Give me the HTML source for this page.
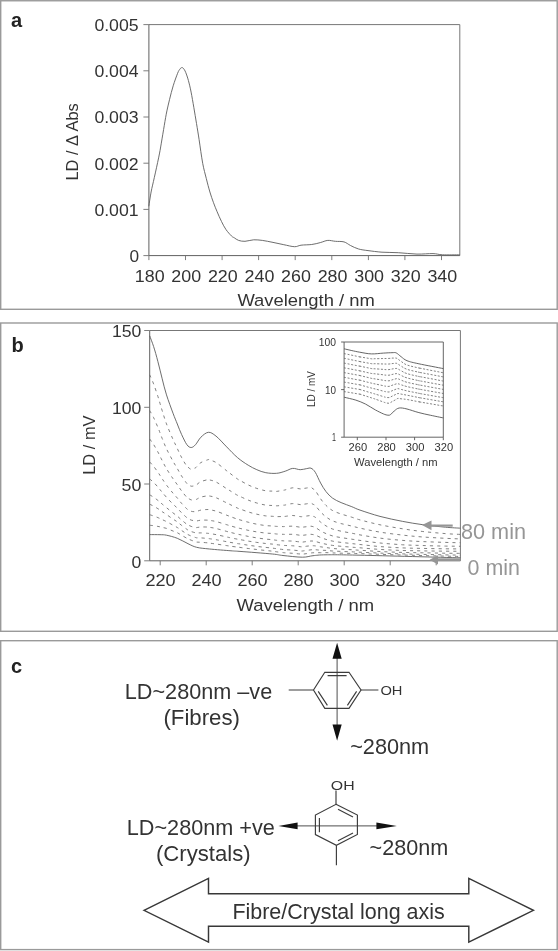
<!DOCTYPE html>
<html><head><meta charset="utf-8"><title>Figure</title>
<style>
html,body{margin:0;padding:0;background:#fff;}
body{width:558px;height:951px;overflow:hidden;font-family:"Liberation Sans",sans-serif;}
svg{display:block;will-change:transform;filter:grayscale(1) blur(0.35px);font-family:"Liberation Sans",sans-serif;}
</style></head><body>
<svg width="558" height="951" viewBox="0 0 558 951">
<rect width="558" height="951" fill="#fff"/>
<rect x="0.7" y="0.75" width="556.5" height="308.55" fill="#fff" stroke="#9a9a9a" stroke-width="1.4"/>
<rect x="0.7" y="323" width="556.5" height="308.30" fill="#fff" stroke="#9a9a9a" stroke-width="1.4"/>
<rect x="0.7" y="640.7" width="556.5" height="308.90" fill="#fff" stroke="#9a9a9a" stroke-width="1.4"/>
<path d="M148.9 24.6H459.8V255.6" fill="none" stroke="#777" stroke-width="1"/><path d="M148.9 24.6V255.6H459.8" fill="none" stroke="#606060" stroke-width="1"/>
<path d="M143.4 24.6H148.9M143.4 70.8H148.9M143.4 117.0H148.9M143.4 163.2H148.9M143.4 209.4H148.9M143.4 255.6H148.9M148.9 255.6V260.1M185.5 255.6V260.1M222.1 255.6V260.1M258.6 255.6V260.1M295.2 255.6V260.1M331.8 255.6V260.1M368.4 255.6V260.1M404.9 255.6V260.1M441.5 255.6V260.1" stroke="#707070" stroke-width="0.9" fill="none"/>
<text x="138.6" y="30.900000000000002" font-size="16.3" text-anchor="end" fill="#333" font-weight="normal" textLength="44.2" lengthAdjust="spacingAndGlyphs">0.005</text>
<text x="138.6" y="77.10000000000001" font-size="16.3" text-anchor="end" fill="#333" font-weight="normal" textLength="44.2" lengthAdjust="spacingAndGlyphs">0.004</text>
<text x="138.6" y="123.3" font-size="16.3" text-anchor="end" fill="#333" font-weight="normal" textLength="44.2" lengthAdjust="spacingAndGlyphs">0.003</text>
<text x="138.6" y="169.5" font-size="16.3" text-anchor="end" fill="#333" font-weight="normal" textLength="44.2" lengthAdjust="spacingAndGlyphs">0.002</text>
<text x="138.6" y="215.70000000000002" font-size="16.3" text-anchor="end" fill="#333" font-weight="normal" textLength="44.2" lengthAdjust="spacingAndGlyphs">0.001</text>
<text x="139.2" y="261.9" font-size="16.3" text-anchor="end" fill="#333" font-weight="normal" textLength="9.6" lengthAdjust="spacingAndGlyphs">0</text>
<text x="149.70000000000002" y="281.7" font-size="16.3" text-anchor="middle" fill="#333" font-weight="normal" textLength="29.8" lengthAdjust="spacingAndGlyphs">180</text>
<text x="186.2764705882353" y="281.7" font-size="16.3" text-anchor="middle" fill="#333" font-weight="normal" textLength="29.8" lengthAdjust="spacingAndGlyphs">200</text>
<text x="222.8529411764706" y="281.7" font-size="16.3" text-anchor="middle" fill="#333" font-weight="normal" textLength="29.8" lengthAdjust="spacingAndGlyphs">220</text>
<text x="259.4294117647059" y="281.7" font-size="16.3" text-anchor="middle" fill="#333" font-weight="normal" textLength="29.8" lengthAdjust="spacingAndGlyphs">240</text>
<text x="296.00588235294117" y="281.7" font-size="16.3" text-anchor="middle" fill="#333" font-weight="normal" textLength="29.8" lengthAdjust="spacingAndGlyphs">260</text>
<text x="332.58235294117645" y="281.7" font-size="16.3" text-anchor="middle" fill="#333" font-weight="normal" textLength="29.8" lengthAdjust="spacingAndGlyphs">280</text>
<text x="369.1588235294118" y="281.7" font-size="16.3" text-anchor="middle" fill="#333" font-weight="normal" textLength="29.8" lengthAdjust="spacingAndGlyphs">300</text>
<text x="405.735294117647" y="281.7" font-size="16.3" text-anchor="middle" fill="#333" font-weight="normal" textLength="29.8" lengthAdjust="spacingAndGlyphs">320</text>
<text x="442.31176470588235" y="281.7" font-size="16.3" text-anchor="middle" fill="#333" font-weight="normal" textLength="29.8" lengthAdjust="spacingAndGlyphs">340</text>
<text x="237.4" y="306" font-size="16.3" text-anchor="start" fill="#333" font-weight="normal" textLength="137.4" lengthAdjust="spacingAndGlyphs">Wavelength / nm</text>
<text x="77.8" y="180.6" font-size="16.3" text-anchor="start" fill="#333" font-weight="normal" textLength="77.4" lengthAdjust="spacingAndGlyphs" transform="rotate(-90 77.8 180.6)">LD / Δ Abs</text>
<text x="11" y="27.2" font-size="20" text-anchor="start" fill="#222" font-weight="bold">a</text>
<path d="M148.8 206.3C149.2 203.9 150.2 196.8 151.1 192.0C152.0 187.2 153.1 183.3 154.3 177.6C155.6 171.9 157.4 163.6 158.6 157.9C159.8 152.2 160.4 148.6 161.3 143.2C162.2 137.8 163.4 130.7 164.3 125.3C165.2 119.9 166.0 115.2 166.9 110.9C167.8 106.6 168.6 103.5 169.6 99.3C170.6 95.1 171.9 90.1 173.2 85.8C174.5 81.5 176.5 76.1 177.6 73.3C178.7 70.5 179.3 70.0 180.0 69.0C180.7 68.0 181.2 67.7 181.8 67.6C182.4 67.5 182.9 67.8 183.6 68.6C184.2 69.4 184.9 70.4 185.7 72.4C186.5 74.4 187.5 77.2 188.4 80.5C189.3 83.8 190.2 87.6 191.1 92.1C192.0 96.6 192.9 102.1 193.8 107.3C194.7 112.5 195.6 118.1 196.5 123.5C197.4 128.9 198.1 133.0 199.1 139.6C200.1 146.2 201.5 156.8 202.7 163.3C203.9 169.8 205.1 173.7 206.3 178.5C207.5 183.3 208.7 188.0 209.9 192.0C211.1 196.0 212.3 199.4 213.5 202.7C214.7 206.0 215.8 208.6 217.1 211.7C218.4 214.8 220.0 218.5 221.5 221.5C223.0 224.5 224.3 227.2 226.0 229.6C227.7 232.0 230.0 234.5 231.4 235.9C232.8 237.3 233.1 237.1 234.3 237.8C235.5 238.6 236.8 239.8 238.6 240.4C240.4 241.0 242.5 241.4 245.0 241.3C247.5 241.2 250.8 240.0 253.7 239.8C256.6 239.7 259.1 240.0 262.3 240.4C265.5 240.8 269.4 241.7 273.0 242.4C276.6 243.1 280.2 244.0 283.8 244.7C287.4 245.4 291.6 246.6 294.5 246.7C297.4 246.8 298.1 245.6 301.0 245.2C303.9 244.8 308.5 244.9 311.7 244.5C314.9 244.1 317.6 243.3 320.3 242.6C323.0 241.9 325.3 240.6 327.8 240.4C330.3 240.2 332.7 241.1 335.4 241.3C338.1 241.6 341.5 241.2 344.0 241.9C346.5 242.6 348.1 244.3 350.5 245.5C352.9 246.7 355.7 248.2 358.6 249.0C361.5 249.8 364.1 250.1 368.0 250.6C371.9 251.1 376.9 251.8 382.0 252.2C387.1 252.5 392.5 252.4 398.3 252.7C404.1 253.0 411.2 253.9 417.0 254.1C422.8 254.2 428.7 253.5 433.0 253.6C437.3 253.7 438.1 254.6 442.6 254.8C447.1 255.0 456.9 254.8 459.8 254.8" fill="none" stroke="#5c5c5c" stroke-width="0.9"/>
<path d="M149.7 330.5H460.4V560.8" fill="none" stroke="#777" stroke-width="1"/><path d="M149.7 330.5V560.8H460.4" fill="none" stroke="#606060" stroke-width="1"/>
<path d="M144.2 330.5H149.7M144.2 407.3H149.7M144.2 484.0H149.7M144.2 560.8H149.7M160.2 560.8V565.3M206.2 560.8V565.3M252.2 560.8V565.3M298.2 560.8V565.3M344.2 560.8V565.3M390.2 560.8V565.3M436.2 560.8V565.3" stroke="#707070" stroke-width="0.9" fill="none"/>
<text x="141.4" y="336.9" font-size="15.7" text-anchor="end" fill="#333" font-weight="normal" textLength="29.4" lengthAdjust="spacingAndGlyphs">150</text>
<text x="141.4" y="414.26666666666665" font-size="15.7" text-anchor="end" fill="#333" font-weight="normal" textLength="29.4" lengthAdjust="spacingAndGlyphs">100</text>
<text x="141.4" y="491.0333333333333" font-size="16.2" text-anchor="end" fill="#333" font-weight="normal" textLength="19.8" lengthAdjust="spacingAndGlyphs">50</text>
<text x="141.4" y="567.8" font-size="15.7" text-anchor="end" fill="#333" font-weight="normal" textLength="9.8" lengthAdjust="spacingAndGlyphs">0</text>
<text x="160.5" y="585.6" font-size="16.3" text-anchor="middle" fill="#333" font-weight="normal" textLength="30.2" lengthAdjust="spacingAndGlyphs">220</text>
<text x="206.5" y="585.6" font-size="16.3" text-anchor="middle" fill="#333" font-weight="normal" textLength="30.2" lengthAdjust="spacingAndGlyphs">240</text>
<text x="252.5" y="585.6" font-size="16.3" text-anchor="middle" fill="#333" font-weight="normal" textLength="30.2" lengthAdjust="spacingAndGlyphs">260</text>
<text x="298.5" y="585.6" font-size="16.3" text-anchor="middle" fill="#333" font-weight="normal" textLength="30.2" lengthAdjust="spacingAndGlyphs">280</text>
<text x="344.5" y="585.6" font-size="16.3" text-anchor="middle" fill="#333" font-weight="normal" textLength="30.2" lengthAdjust="spacingAndGlyphs">300</text>
<text x="390.5" y="585.6" font-size="16.3" text-anchor="middle" fill="#333" font-weight="normal" textLength="30.2" lengthAdjust="spacingAndGlyphs">320</text>
<text x="436.5" y="585.6" font-size="16.3" text-anchor="middle" fill="#333" font-weight="normal" textLength="30.2" lengthAdjust="spacingAndGlyphs">340</text>
<text x="236.6" y="611.4" font-size="16.3" text-anchor="start" fill="#333" font-weight="normal" textLength="137.6" lengthAdjust="spacingAndGlyphs">Wavelength / nm</text>
<text x="95.4" y="474.8" font-size="16.3" text-anchor="start" fill="#333" font-weight="normal" textLength="59.4" lengthAdjust="spacingAndGlyphs" transform="rotate(-90 95.4 474.8)">LD / mV</text>
<text x="11.5" y="352" font-size="20" text-anchor="start" fill="#222" font-weight="bold">b</text>
<path d="M149.7 335.8C150.3 337.6 152.2 342.2 153.6 346.5C155.0 350.8 156.5 356.2 157.9 361.6C159.3 367.0 160.8 373.2 162.2 378.8C163.6 384.4 164.7 389.2 166.5 394.9C168.3 400.6 171.2 408.3 173.0 413.2C174.8 418.1 175.9 420.4 177.3 424.0C178.7 427.6 180.0 431.1 181.6 434.5C183.2 437.9 185.3 442.5 186.9 444.7C188.5 446.9 189.8 447.5 191.2 447.5C192.6 447.5 193.9 446.4 195.5 444.7C197.1 443.0 198.8 439.3 200.9 437.2C203.1 435.1 205.9 432.5 208.4 432.3C210.9 432.1 212.9 433.7 216.0 436.1C219.1 438.5 223.1 443.3 226.7 446.9C230.3 450.5 233.9 454.6 237.5 457.6C241.1 460.7 245.0 463.2 248.2 465.2C251.4 467.2 253.9 468.4 256.8 469.7C259.7 470.9 262.5 472.1 265.8 472.7C269.1 473.3 273.4 473.6 276.6 473.3C279.8 473.1 282.5 472.0 285.2 471.2C287.9 470.4 290.2 468.6 292.7 468.4C295.2 468.1 297.9 469.7 300.2 469.7C302.5 469.7 304.9 468.9 306.7 468.6C308.5 468.4 309.6 467.6 311.0 468.2C312.4 468.8 313.7 469.8 315.3 472.3C316.9 474.8 318.8 479.8 320.6 483.0C322.4 486.2 324.0 489.1 326.0 491.6C328.0 494.1 330.0 496.3 332.5 498.1C335.0 499.9 337.9 501.2 341.1 502.6C344.3 504.0 348.7 505.4 351.8 506.7C354.9 507.9 355.3 508.5 360.0 510.1C364.7 511.7 372.9 514.5 380.0 516.4C387.1 518.3 395.6 520.0 402.7 521.4C409.8 522.8 415.7 523.7 422.8 524.7C429.9 525.7 439.1 526.6 445.4 527.2C451.7 527.8 457.9 528.0 460.4 528.2" fill="none" stroke="#5c5c5c" stroke-width="0.9"/>
<path d="M149.7 534.6C151.4 534.6 157.2 534.6 160.0 534.7C162.8 534.8 163.6 534.6 166.5 535.2C169.4 535.8 173.7 536.9 177.3 538.3C180.9 539.7 184.8 542.2 188.0 543.7C191.2 545.2 193.0 546.4 196.6 547.3C200.2 548.2 203.8 548.4 209.5 549.0C215.2 549.6 225.9 550.4 231.0 550.8C236.1 551.2 233.1 550.9 240.0 551.4C246.9 551.9 265.1 553.3 272.3 554.0C279.5 554.7 278.0 555.0 283.0 555.5C288.0 556.0 297.4 557.2 302.4 557.2C307.4 557.2 309.1 556.1 313.0 555.7C316.9 555.3 318.2 554.9 326.0 554.8C333.8 554.7 337.6 554.7 360.0 555.2C382.4 555.7 443.7 557.4 460.4 557.8" fill="none" stroke="#5c5c5c" stroke-width="0.9"/>
<path d="M149.7 374.8C150.3 376.3 152.2 380.2 153.6 383.9C155.0 387.5 156.8 393.2 157.9 396.4C159.0 399.7 159.3 401.0 160.0 403.4C160.7 405.8 161.1 407.2 162.2 410.7C163.3 414.1 164.7 419.2 166.5 423.9C168.3 428.7 171.2 435.3 173.0 439.4C174.8 443.4 175.9 445.4 177.3 448.5C178.7 451.5 180.0 454.5 181.6 457.5C183.2 460.5 185.8 464.8 186.9 466.4C188.0 468.0 187.3 466.7 188.0 467.1C188.7 467.6 189.9 469.2 191.2 469.3C192.4 469.4 194.6 468.2 195.5 467.8C196.4 467.4 195.7 467.6 196.6 466.8C197.5 465.9 198.9 463.8 200.9 462.6C202.9 461.4 207.0 460.0 208.4 459.6C209.8 459.1 208.2 459.5 209.5 460.0C210.8 460.5 213.1 460.7 216.0 462.5C218.9 464.3 224.2 468.9 226.7 470.8C229.2 472.7 229.2 472.7 231.0 474.1C232.8 475.5 236.0 478.0 237.5 479.0C239.0 480.1 238.2 479.4 240.0 480.4C241.8 481.4 245.4 483.6 248.2 484.9C251.0 486.3 253.9 487.5 256.8 488.4C259.7 489.4 263.2 490.3 265.8 490.8C268.4 491.2 270.5 491.0 272.3 491.1C274.1 491.2 274.8 491.5 276.6 491.4C278.4 491.2 281.6 490.5 283.0 490.3C284.4 490.1 283.6 490.3 285.2 489.9C286.8 489.5 290.2 488.0 292.7 487.8C295.2 487.7 298.6 488.8 300.2 488.9C301.8 489.1 301.3 488.8 302.4 488.7C303.5 488.5 305.3 488.2 306.7 488.0C308.1 487.8 309.9 487.3 311.0 487.5C312.1 487.6 312.3 488.4 313.0 488.9C313.7 489.4 314.0 488.9 315.3 490.6C316.6 492.2 318.8 496.3 320.6 498.8C322.4 501.3 324.0 503.5 326.0 505.4C328.0 507.4 330.0 509.1 332.5 510.5C335.0 511.9 337.9 512.9 341.1 514.0C344.3 515.1 348.7 516.2 351.8 517.2C354.9 518.2 355.3 518.6 360.0 519.9C364.7 521.1 372.9 523.3 380.0 524.8C387.1 526.3 395.6 527.7 402.7 528.8C409.8 530.0 415.7 530.7 422.8 531.5C429.9 532.3 439.1 533.1 445.4 533.6C451.7 534.1 457.9 534.3 460.4 534.4" fill="none" stroke="#6a6a6a" stroke-width="0.85" stroke-dasharray="3.1 4.1"/>
<path d="M149.7 410.5C150.3 411.7 152.2 414.8 153.6 417.6C155.0 420.4 156.8 424.9 157.9 427.4C159.0 429.9 159.3 430.9 160.0 432.8C160.7 434.6 161.1 435.8 162.2 438.5C163.3 441.1 164.7 445.0 166.5 448.8C168.3 452.6 171.2 457.9 173.0 461.2C174.8 464.5 175.9 466.1 177.3 468.5C178.7 471.0 180.0 473.5 181.6 476.0C183.2 478.5 185.8 482.2 186.9 483.5C188.0 484.9 187.3 483.8 188.0 484.2C188.7 484.7 189.9 486.0 191.2 486.2C192.4 486.4 194.6 485.7 195.5 485.4C196.4 485.2 195.7 485.4 196.6 484.8C197.5 484.1 198.9 482.5 200.9 481.6C202.9 480.8 207.0 479.8 208.4 479.5C209.8 479.2 208.2 479.5 209.5 479.9C210.8 480.3 213.1 480.5 216.0 482.0C218.9 483.4 224.2 487.1 226.7 488.7C229.2 490.3 229.2 490.2 231.0 491.3C232.8 492.5 236.0 494.5 237.5 495.3C239.0 496.2 238.2 495.6 240.0 496.4C241.8 497.2 245.4 499.0 248.2 500.1C251.0 501.2 253.9 502.2 256.8 503.0C259.7 503.9 263.2 504.7 265.8 505.1C268.4 505.5 270.5 505.3 272.3 505.5C274.1 505.6 274.8 505.9 276.6 505.8C278.4 505.8 281.6 505.4 283.0 505.2C284.4 505.1 283.6 505.3 285.2 505.0C286.8 504.7 290.2 503.6 292.7 503.6C295.2 503.5 298.6 504.5 300.2 504.6C301.8 504.8 301.3 504.6 302.4 504.5C303.5 504.3 305.3 504.0 306.7 503.8C308.1 503.6 309.9 503.2 311.0 503.3C312.1 503.4 312.3 504.0 313.0 504.3C313.7 504.7 314.0 504.3 315.3 505.6C316.6 506.9 318.8 510.0 320.6 511.9C322.4 513.8 324.0 515.4 326.0 516.9C328.0 518.4 330.0 519.7 332.5 520.8C335.0 521.9 337.9 522.7 341.1 523.6C344.3 524.4 348.7 525.3 351.8 526.1C354.9 526.8 355.3 527.1 360.0 528.1C364.7 529.2 372.9 531.0 380.0 532.1C387.1 533.3 395.6 534.3 402.7 535.1C409.8 536.0 415.7 536.4 422.8 537.0C429.9 537.5 439.1 538.0 445.4 538.3C451.7 538.7 457.9 538.8 460.4 538.9" fill="none" stroke="#6a6a6a" stroke-width="0.85" stroke-dasharray="3.1 4.1"/>
<path d="M149.7 439.0C150.3 439.9 152.2 442.3 153.6 444.5C155.0 446.6 156.8 450.1 157.9 452.0C159.0 454.0 159.3 454.8 160.0 456.2C160.7 457.6 161.1 458.5 162.2 460.6C163.3 462.7 164.7 465.7 166.5 468.7C168.3 471.7 171.2 476.1 173.0 478.7C174.8 481.4 175.9 482.6 177.3 484.7C178.7 486.7 180.0 488.8 181.6 490.9C183.2 493.1 185.8 496.2 186.9 497.4C188.0 498.5 187.3 497.6 188.0 498.0C188.7 498.5 189.9 499.6 191.2 499.9C192.4 500.1 194.6 499.8 195.5 499.7C196.4 499.6 195.7 499.8 196.6 499.3C197.5 498.9 198.9 497.7 200.9 497.1C202.9 496.5 207.0 495.9 208.4 495.7C209.8 495.5 208.2 495.7 209.5 496.0C210.8 496.3 213.1 496.5 216.0 497.7C218.9 498.8 224.2 501.7 226.7 502.9C229.2 504.1 229.2 504.1 231.0 505.0C232.8 505.9 236.0 507.4 237.5 508.1C239.0 508.8 238.2 508.3 240.0 509.0C241.8 509.6 245.4 511.0 248.2 511.9C251.0 512.8 253.9 513.6 256.8 514.2C259.7 514.9 263.2 515.6 265.8 515.9C268.4 516.2 270.5 516.1 272.3 516.3C274.1 516.4 274.8 516.6 276.6 516.6C278.4 516.7 281.6 516.5 283.0 516.5C284.4 516.4 283.6 516.5 285.2 516.4C286.8 516.2 290.2 515.5 292.7 515.5C295.2 515.6 298.6 516.4 300.2 516.6C301.8 516.8 301.3 516.7 302.4 516.6C303.5 516.5 305.3 516.2 306.7 516.0C308.1 515.8 309.9 515.5 311.0 515.6C312.1 515.6 312.3 516.0 313.0 516.3C313.7 516.6 314.0 516.3 315.3 517.3C316.6 518.2 318.8 520.6 320.6 522.1C322.4 523.5 324.0 524.7 326.0 525.9C328.0 527.0 330.0 528.1 332.5 529.0C335.0 529.8 337.9 530.5 341.1 531.2C344.3 531.9 348.7 532.6 351.8 533.2C354.9 533.8 355.3 534.0 360.0 534.9C364.7 535.7 372.9 537.2 380.0 538.1C387.1 539.1 395.6 539.8 402.7 540.4C409.8 541.0 415.7 541.3 422.8 541.6C429.9 541.9 439.1 542.2 445.4 542.4C451.7 542.6 457.9 542.7 460.4 542.7" fill="none" stroke="#6a6a6a" stroke-width="0.85" stroke-dasharray="3.1 4.1"/>
<path d="M149.7 462.0C150.3 462.7 152.2 464.6 153.6 466.3C155.0 468.0 156.8 470.7 157.9 472.2C159.0 473.7 159.3 474.3 160.0 475.4C160.7 476.5 161.1 477.2 162.2 478.8C163.3 480.4 164.7 482.7 166.5 485.1C168.3 487.5 171.2 491.0 173.0 493.2C174.8 495.4 175.9 496.3 177.3 498.0C178.7 499.7 180.0 501.5 181.6 503.4C183.2 505.2 185.8 507.9 186.9 508.9C188.0 509.9 187.3 509.2 188.0 509.6C188.7 510.0 189.9 511.0 191.2 511.3C192.4 511.7 194.6 511.7 195.5 511.7C196.4 511.8 195.7 511.8 196.6 511.6C197.5 511.3 198.9 510.4 200.9 510.1C202.9 509.7 207.0 509.5 208.4 509.5C209.8 509.4 208.2 509.4 209.5 509.7C210.8 510.0 213.1 510.2 216.0 511.1C218.9 512.0 224.2 514.2 226.7 515.2C229.2 516.1 229.2 516.2 231.0 516.8C232.8 517.5 236.0 518.7 237.5 519.2C239.0 519.7 238.2 519.4 240.0 519.9C241.8 520.4 245.4 521.5 248.2 522.2C251.0 523.0 253.9 523.6 256.8 524.2C259.7 524.7 263.2 525.3 265.8 525.6C268.4 525.9 270.5 525.8 272.3 526.0C274.1 526.1 274.8 526.3 276.6 526.4C278.4 526.5 281.6 526.5 283.0 526.6C284.4 526.6 283.6 526.6 285.2 526.5C286.8 526.5 290.2 526.0 292.7 526.2C295.2 526.3 298.6 527.0 300.2 527.2C301.8 527.4 301.3 527.3 302.4 527.2C303.5 527.1 305.3 526.8 306.7 526.7C308.1 526.5 309.9 526.2 311.0 526.2C312.1 526.2 312.3 526.5 313.0 526.7C313.7 526.9 314.0 526.7 315.3 527.4C316.6 528.1 318.8 529.8 320.6 530.9C322.4 531.9 324.0 532.8 326.0 533.6C328.0 534.4 330.0 535.2 332.5 535.9C335.0 536.6 337.9 537.1 341.1 537.6C344.3 538.1 348.7 538.7 351.8 539.2C354.9 539.6 355.3 539.8 360.0 540.4C364.7 541.1 372.9 542.3 380.0 543.0C387.1 543.7 395.6 544.3 402.7 544.8C409.8 545.2 415.7 545.3 422.8 545.5C429.9 545.8 439.1 546.0 445.4 546.1C451.7 546.2 457.9 546.2 460.4 546.3" fill="none" stroke="#6a6a6a" stroke-width="0.85" stroke-dasharray="3.1 4.1"/>
<path d="M149.7 478.9C150.3 479.5 152.2 481.0 153.6 482.4C155.0 483.7 156.8 485.8 157.9 487.0C159.0 488.2 159.3 488.7 160.0 489.6C160.7 490.5 161.1 491.0 162.2 492.3C163.3 493.6 164.7 495.3 166.5 497.3C168.3 499.3 171.2 502.3 173.0 504.1C174.8 505.9 175.9 506.7 177.3 508.1C178.7 509.6 180.0 511.2 181.6 512.8C183.2 514.4 185.8 516.8 186.9 517.7C188.0 518.7 187.3 518.0 188.0 518.4C188.7 518.8 189.9 519.7 191.2 520.1C192.4 520.5 194.6 520.8 195.5 521.0C196.4 521.1 195.7 521.1 196.6 521.0C197.5 520.9 198.9 520.3 200.9 520.2C202.9 520.0 207.0 520.1 208.4 520.2C209.8 520.2 208.2 520.2 209.5 520.4C210.8 520.6 213.1 520.8 216.0 521.5C218.9 522.3 224.2 524.0 226.7 524.7C229.2 525.5 229.2 525.5 231.0 526.0C232.8 526.5 236.0 527.5 237.5 527.9C239.0 528.3 238.2 528.0 240.0 528.4C241.8 528.8 245.4 529.7 248.2 530.3C251.0 530.9 253.9 531.4 256.8 531.9C259.7 532.3 263.2 532.8 265.8 533.1C268.4 533.3 270.5 533.3 272.3 533.5C274.1 533.6 274.8 533.8 276.6 534.0C278.4 534.1 281.6 534.3 283.0 534.3C284.4 534.4 283.6 534.4 285.2 534.4C286.8 534.4 290.2 534.2 292.7 534.3C295.2 534.4 298.6 535.1 300.2 535.3C301.8 535.4 301.3 535.4 302.4 535.3C303.5 535.3 305.3 535.0 306.7 534.8C308.1 534.6 309.9 534.3 311.0 534.3C312.1 534.3 312.3 534.5 313.0 534.6C313.7 534.7 314.0 534.6 315.3 535.1C316.6 535.5 318.8 536.8 320.6 537.5C322.4 538.2 324.0 538.8 326.0 539.4C328.0 540.0 330.0 540.6 332.5 541.1C335.0 541.6 337.9 542.0 341.1 542.4C344.3 542.8 348.7 543.2 351.8 543.6C354.9 543.9 355.3 544.0 360.0 544.5C364.7 545.0 372.9 546.0 380.0 546.6C387.1 547.1 395.6 547.6 402.7 547.9C409.8 548.2 415.7 548.3 422.8 548.4C429.9 548.6 439.1 548.7 445.4 548.8C451.7 548.9 457.9 548.9 460.4 548.9" fill="none" stroke="#6a6a6a" stroke-width="0.85" stroke-dasharray="3.1 4.1"/>
<path d="M149.7 494.8C150.3 495.2 152.2 496.3 153.6 497.2C155.0 498.1 156.8 499.6 157.9 500.4C159.0 501.2 159.3 501.5 160.0 502.1C160.7 502.8 161.1 503.2 162.2 504.1C163.3 505.0 164.7 506.2 166.5 507.7C168.3 509.1 171.2 511.5 173.0 512.9C174.8 514.3 175.9 515.0 177.3 516.1C178.7 517.3 180.0 518.7 181.6 520.0C183.2 521.4 185.8 523.5 186.9 524.3C188.0 525.1 187.3 524.5 188.0 524.9C188.7 525.2 189.9 526.0 191.2 526.4C192.4 526.9 194.6 527.3 195.5 527.5C196.4 527.6 195.7 527.6 196.6 527.6C197.5 527.5 198.9 527.1 200.9 527.0C202.9 526.9 207.0 527.0 208.4 527.1C209.8 527.1 208.2 527.1 209.5 527.3C210.8 527.5 213.1 527.8 216.0 528.5C218.9 529.2 224.2 530.7 226.7 531.4C229.2 532.1 229.2 532.1 231.0 532.5C232.8 533.0 236.0 533.8 237.5 534.2C239.0 534.5 238.2 534.3 240.0 534.7C241.8 535.0 245.4 535.8 248.2 536.4C251.0 536.9 253.9 537.4 256.8 537.9C259.7 538.3 263.2 538.8 265.8 539.1C268.4 539.4 270.5 539.5 272.3 539.7C274.1 539.9 274.8 540.1 276.6 540.3C278.4 540.5 281.6 540.7 283.0 540.8C284.4 540.9 283.6 540.9 285.2 540.9C286.8 541.0 290.2 540.9 292.7 541.1C295.2 541.3 298.6 541.8 300.2 542.0C301.8 542.1 301.3 542.2 302.4 542.1C303.5 542.0 305.3 541.7 306.7 541.5C308.1 541.3 309.9 541.1 311.0 541.0C312.1 540.9 312.3 541.1 313.0 541.1C313.7 541.2 314.0 541.1 315.3 541.4C316.6 541.7 318.8 542.5 320.6 543.0C322.4 543.4 324.0 543.8 326.0 544.2C328.0 544.6 330.0 545.0 332.5 545.4C335.0 545.7 337.9 546.0 341.1 546.3C344.3 546.6 348.7 546.9 351.8 547.2C354.9 547.4 355.3 547.5 360.0 547.8C364.7 548.2 372.9 549.0 380.0 549.4C387.1 549.9 395.6 550.2 402.7 550.5C409.8 550.7 415.7 550.7 422.8 550.9C429.9 551.0 439.1 551.1 445.4 551.2C451.7 551.2 457.9 551.3 460.4 551.3" fill="none" stroke="#6a6a6a" stroke-width="0.85" stroke-dasharray="3.1 4.1"/>
<path d="M149.7 504.2C150.3 504.5 152.2 505.4 153.6 506.1C155.0 506.9 156.8 508.0 157.9 508.7C159.0 509.3 159.3 509.6 160.0 510.1C160.7 510.6 161.1 510.9 162.2 511.7C163.3 512.4 164.7 513.3 166.5 514.5C168.3 515.8 171.2 517.9 173.0 519.1C174.8 520.3 175.9 520.8 177.3 521.9C178.7 522.9 180.0 524.2 181.6 525.4C183.2 526.7 185.8 528.6 186.9 529.3C188.0 530.1 187.3 529.6 188.0 530.0C188.7 530.3 189.9 531.0 191.2 531.5C192.4 532.0 194.6 532.6 195.5 532.8C196.4 533.1 195.7 533.0 196.6 533.0C197.5 533.1 198.9 532.8 200.9 532.9C202.9 532.9 207.0 533.2 208.4 533.4C209.8 533.5 208.2 533.4 209.5 533.6C210.8 533.8 213.1 534.0 216.0 534.6C218.9 535.2 224.2 536.4 226.7 537.0C229.2 537.5 229.2 537.5 231.0 537.9C232.8 538.3 236.0 538.9 237.5 539.2C239.0 539.5 238.2 539.3 240.0 539.6C241.8 539.9 245.4 540.6 248.2 541.1C251.0 541.5 253.9 542.0 256.8 542.4C259.7 542.8 263.2 543.2 265.8 543.5C268.4 543.8 270.5 543.9 272.3 544.1C274.1 544.3 274.8 544.5 276.6 544.7C278.4 544.9 281.6 545.2 283.0 545.4C284.4 545.5 283.6 545.4 285.2 545.5C286.8 545.6 290.2 545.6 292.7 545.8C295.2 546.0 298.6 546.5 300.2 546.7C301.8 546.8 301.3 546.9 302.4 546.8C303.5 546.7 305.3 546.4 306.7 546.2C308.1 546.1 309.9 545.8 311.0 545.7C312.1 545.6 312.3 545.7 313.0 545.7C313.7 545.7 314.0 545.7 315.3 545.9C316.6 546.0 318.8 546.6 320.6 546.8C322.4 547.1 324.0 547.3 326.0 547.5C328.0 547.8 330.0 548.2 332.5 548.4C335.0 548.7 337.9 548.9 341.1 549.1C344.3 549.3 348.7 549.5 351.8 549.7C354.9 549.9 355.3 550.0 360.0 550.3C364.7 550.5 372.9 551.2 380.0 551.5C387.1 551.9 395.6 552.2 402.7 552.4C409.8 552.6 415.7 552.7 422.8 552.8C429.9 552.9 439.1 553.1 445.4 553.2C451.7 553.3 457.9 553.3 460.4 553.4" fill="none" stroke="#6a6a6a" stroke-width="0.85" stroke-dasharray="3.1 4.1"/>
<path d="M149.7 514.7C150.3 514.9 152.2 515.5 153.6 516.0C155.0 516.4 156.8 517.2 157.9 517.6C159.0 518.1 159.3 518.2 160.0 518.6C160.7 518.9 161.1 519.1 162.2 519.6C163.3 520.1 164.7 520.7 166.5 521.6C168.3 522.5 171.2 524.2 173.0 525.2C174.8 526.2 175.9 526.6 177.3 527.5C178.7 528.3 180.0 529.4 181.6 530.5C183.2 531.6 185.8 533.3 186.9 534.0C188.0 534.7 187.3 534.2 188.0 534.6C188.7 534.9 189.9 535.6 191.2 536.0C192.4 536.5 194.6 537.2 195.5 537.5C196.4 537.8 195.7 537.7 196.6 537.8C197.5 537.9 198.9 537.8 200.9 537.9C202.9 538.0 207.0 538.4 208.4 538.5C209.8 538.6 208.2 538.5 209.5 538.7C210.8 538.9 213.1 539.2 216.0 539.7C218.9 540.2 224.2 541.2 226.7 541.7C229.2 542.2 229.2 542.2 231.0 542.5C232.8 542.8 236.0 543.3 237.5 543.6C239.0 543.8 238.2 543.7 240.0 543.9C241.8 544.2 245.4 544.8 248.2 545.2C251.0 545.6 253.9 546.0 256.8 546.4C259.7 546.7 263.2 547.2 265.8 547.4C268.4 547.7 270.5 547.9 272.3 548.1C274.1 548.3 274.8 548.5 276.6 548.7C278.4 549.0 281.6 549.3 283.0 549.5C284.4 549.7 283.6 549.6 285.2 549.7C286.8 549.8 290.2 549.9 292.7 550.1C295.2 550.3 298.6 550.7 300.2 550.8C301.8 551.0 301.3 551.1 302.4 551.0C303.5 550.9 305.3 550.6 306.7 550.4C308.1 550.2 309.9 550.0 311.0 549.8C312.1 549.7 312.3 549.7 313.0 549.7C313.7 549.7 314.0 549.7 315.3 549.7C316.6 549.8 318.8 550.1 320.6 550.2C322.4 550.3 324.0 550.3 326.0 550.4C328.0 550.6 330.0 550.8 332.5 551.0C335.0 551.1 337.9 551.3 341.1 551.4C344.3 551.6 348.7 551.7 351.8 551.8C354.9 552.0 355.3 552.0 360.0 552.2C364.7 552.4 372.9 552.8 380.0 553.1C387.1 553.4 395.6 553.7 402.7 553.9C409.8 554.1 415.7 554.2 422.8 554.4C429.9 554.5 439.1 554.7 445.4 554.9C451.7 555.0 457.9 555.1 460.4 555.1" fill="none" stroke="#6a6a6a" stroke-width="0.85" stroke-dasharray="3.1 4.1"/>
<path d="M149.7 525.3C150.3 525.3 152.2 525.5 153.6 525.7C155.0 525.9 156.8 526.3 157.9 526.4C159.0 526.6 159.3 526.7 160.0 526.8C160.7 527.0 161.1 527.1 162.2 527.4C163.3 527.7 164.7 527.8 166.5 528.4C168.3 529.1 171.2 530.3 173.0 531.0C174.8 531.8 175.9 532.0 177.3 532.7C178.7 533.4 180.0 534.3 181.6 535.3C183.2 536.2 185.8 537.7 186.9 538.3C188.0 538.9 187.3 538.5 188.0 538.8C188.7 539.1 189.9 539.7 191.2 540.2C192.4 540.7 194.6 541.4 195.5 541.7C196.4 542.0 195.7 542.0 196.6 542.1C197.5 542.2 198.9 542.1 200.9 542.3C202.9 542.4 207.0 542.8 208.4 542.9C209.8 543.1 208.2 542.9 209.5 543.1C210.8 543.3 213.1 543.6 216.0 544.0C218.9 544.4 224.2 545.3 226.7 545.6C229.2 546.0 229.2 546.0 231.0 546.3C232.8 546.5 236.0 546.9 237.5 547.1C239.0 547.3 238.2 547.2 240.0 547.4C241.8 547.7 245.4 548.1 248.2 548.5C251.0 548.8 253.9 549.2 256.8 549.5C259.7 549.9 263.2 550.2 265.8 550.5C268.4 550.8 270.5 550.9 272.3 551.2C274.1 551.4 274.8 551.6 276.6 551.8C278.4 552.1 281.6 552.5 283.0 552.6C284.4 552.8 283.6 552.7 285.2 552.8C286.8 552.9 290.2 553.1 292.7 553.3C295.2 553.5 298.6 553.9 300.2 554.0C301.8 554.2 301.3 554.3 302.4 554.2C303.5 554.1 305.3 553.8 306.7 553.6C308.1 553.4 309.9 553.1 311.0 553.0C312.1 552.8 312.3 552.8 313.0 552.8C313.7 552.7 314.0 552.7 315.3 552.7C316.6 552.7 318.8 552.7 320.6 552.7C322.4 552.7 324.0 552.6 326.0 552.6C328.0 552.7 330.0 552.8 332.5 552.9C335.0 553.0 337.9 553.1 341.1 553.2C344.3 553.3 348.7 553.3 351.8 553.4C354.9 553.5 355.3 553.5 360.0 553.6C364.7 553.8 372.9 554.1 380.0 554.3C387.1 554.6 395.6 554.8 402.7 555.0C409.8 555.2 415.7 555.4 422.8 555.6C429.9 555.7 439.1 556.0 445.4 556.1C451.7 556.3 457.9 556.4 460.4 556.5" fill="none" stroke="#6a6a6a" stroke-width="0.85" stroke-dasharray="3.1 4.1"/>
<path d="M422 525L431.5 520.4V530.2Z" fill="#969696"/><path d="M431 525.6H452.7" stroke="#969696" stroke-width="2.2"/>
<path d="M429.6 559.8L438 555.2V564.6Z" fill="#969696"/><path d="M437.5 559.6H460.4" stroke="#969696" stroke-width="2.6"/>
<text x="461" y="539.2" font-size="21.6" text-anchor="start" fill="#969696" font-weight="normal" textLength="65" lengthAdjust="spacingAndGlyphs">80 min</text>
<text x="467.6" y="574.6" font-size="21.6" text-anchor="start" fill="#969696" font-weight="normal" textLength="52.4" lengthAdjust="spacingAndGlyphs">0 min</text>
<path d="M344.1 342H443.3V437.2H344.1Z" fill="#fff" stroke="#555" stroke-width="0.9"/>
<path d="M341.1 342.0H344.1M341.1 389.6H344.1M341.1 437.2H344.1M357.3 437.2V440.2M386.0 437.2V440.2M414.6 437.2V440.2M443.3 437.2V440.2" stroke="#555" stroke-width="0.9" fill="none"/>
<text x="336" y="345.8" font-size="10.3" text-anchor="end" fill="#333" font-weight="normal" textLength="17.2" lengthAdjust="spacingAndGlyphs">100</text>
<text x="336" y="394.00000000000006" font-size="10.3" text-anchor="end" fill="#333" font-weight="normal" textLength="11" lengthAdjust="spacingAndGlyphs">10</text>
<text x="336" y="441.0" font-size="10.3" text-anchor="end" fill="#333" font-weight="normal" textLength="4" lengthAdjust="spacingAndGlyphs">1</text>
<text x="357.8" y="451.4" font-size="10.3" text-anchor="middle" fill="#333" font-weight="normal" textLength="18.6" lengthAdjust="spacingAndGlyphs">260</text>
<text x="386.5" y="451.4" font-size="10.3" text-anchor="middle" fill="#333" font-weight="normal" textLength="18.6" lengthAdjust="spacingAndGlyphs">280</text>
<text x="415.1" y="451.4" font-size="10.3" text-anchor="middle" fill="#333" font-weight="normal" textLength="18.6" lengthAdjust="spacingAndGlyphs">300</text>
<text x="443.8" y="451.4" font-size="10.3" text-anchor="middle" fill="#333" font-weight="normal" textLength="18.6" lengthAdjust="spacingAndGlyphs">320</text>
<text x="354" y="465.8" font-size="10.3" text-anchor="start" fill="#333" font-weight="normal" textLength="83.6" lengthAdjust="spacingAndGlyphs">Wavelength / nm</text>
<text x="315" y="406.9" font-size="10.3" text-anchor="start" fill="#333" font-weight="normal" textLength="35.8" lengthAdjust="spacingAndGlyphs" transform="rotate(-90 315 406.9)">LD / mV</text>
<path d="M344.1 348.8C346.7 349.4 355.1 351.4 359.7 352.2C364.3 353.0 367.7 353.8 371.6 353.9C375.6 354.0 380.0 353.3 383.4 353.1C386.8 352.9 389.9 352.7 392.0 352.7C394.1 352.7 394.7 352.2 396.2 352.9C397.7 353.6 399.3 355.4 401.1 356.7C402.9 358.0 404.0 359.5 407.0 360.7C410.0 361.9 412.8 362.5 418.9 363.8C424.9 365.1 439.2 367.8 443.3 368.6" fill="none" stroke="#555" stroke-width="0.9"/>
<path d="M344.1 397.2C346.1 397.7 352.2 399.0 355.8 400.1C359.4 401.2 362.3 402.5 365.6 404.1C368.9 405.8 372.5 408.4 375.5 410.0C378.5 411.6 381.3 413.0 383.4 413.9C385.5 414.8 386.8 415.1 388.0 415.2C389.2 415.3 389.6 415.3 390.6 414.6C391.6 413.9 392.8 412.1 394.2 411.0C395.6 409.9 397.1 408.3 399.2 408.0C401.3 407.7 403.7 408.2 407.0 409.0C410.3 409.8 414.9 411.6 418.9 412.6C422.8 413.7 426.6 414.4 430.7 415.3C434.8 416.2 441.2 417.5 443.3 417.9" fill="none" stroke="#555" stroke-width="0.9"/>
<path d="M344.1 353.6C346.7 354.1 357.1 356.3 359.7 356.9C362.3 357.4 358.0 356.6 360.0 356.9C362.0 357.2 369.1 358.5 371.6 358.8C374.1 359.1 373.0 358.7 375.0 358.7C377.0 358.7 381.7 358.6 383.4 358.5C385.1 358.5 384.1 358.6 385.0 358.5C385.9 358.5 387.8 358.5 389.0 358.4C390.2 358.4 391.2 358.2 392.0 358.1C392.8 358.1 393.3 358.1 394.0 358.1C394.7 358.1 395.5 357.9 396.2 358.1C396.9 358.2 397.2 358.6 398.0 359.2C398.8 359.7 399.6 360.4 401.1 361.4C402.6 362.3 404.0 363.9 407.0 365.0C410.0 366.1 416.7 367.5 418.9 368.0C421.1 368.6 415.9 367.4 420.0 368.2C424.1 369.0 439.4 372.0 443.3 372.8" fill="none" stroke="#5a5a5a" stroke-width="0.75" stroke-dasharray="2 1.6"/>
<path d="M344.1 358.3C346.7 358.8 357.1 361.0 359.7 361.5C362.3 362.1 358.0 361.2 360.0 361.6C362.0 361.9 369.1 363.3 371.6 363.7C374.1 364.0 373.0 363.7 375.0 363.7C377.0 363.8 381.7 363.9 383.4 364.0C385.1 364.0 384.1 364.0 385.0 364.0C385.9 364.1 387.8 364.1 389.0 364.0C390.2 364.0 391.2 363.7 392.0 363.6C392.8 363.5 393.3 363.5 394.0 363.4C394.7 363.4 395.5 363.1 396.2 363.2C396.9 363.3 397.2 363.6 398.0 364.1C398.8 364.6 399.6 365.2 401.1 366.1C402.6 366.9 404.0 368.3 407.0 369.3C410.0 370.4 416.7 371.7 418.9 372.2C421.1 372.8 415.9 371.7 420.0 372.5C424.1 373.2 439.4 376.2 443.3 376.9" fill="none" stroke="#5a5a5a" stroke-width="0.75" stroke-dasharray="2 1.6"/>
<path d="M344.1 363.1C346.7 363.6 357.1 365.7 359.7 366.2C362.3 366.7 358.0 365.8 360.0 366.2C362.0 366.6 369.1 368.1 371.6 368.6C374.1 369.0 373.0 368.6 375.0 368.8C377.0 368.9 381.7 369.3 383.4 369.4C385.1 369.5 384.1 369.5 385.0 369.6C385.9 369.6 387.8 369.7 389.0 369.6C390.2 369.5 391.2 369.2 392.0 369.0C392.8 368.9 393.3 368.8 394.0 368.7C394.7 368.6 395.5 368.4 396.2 368.4C396.9 368.4 397.2 368.6 398.0 369.0C398.8 369.4 399.6 370.0 401.1 370.7C402.6 371.5 404.0 372.7 407.0 373.6C410.0 374.6 416.7 376.0 418.9 376.5C421.1 377.0 415.9 375.9 420.0 376.7C424.1 377.4 439.4 380.3 443.3 381.1" fill="none" stroke="#5a5a5a" stroke-width="0.75" stroke-dasharray="2 1.6"/>
<path d="M344.1 367.8C346.7 368.3 357.1 370.3 359.7 370.8C362.3 371.4 358.0 370.5 360.0 370.9C362.0 371.3 369.1 373.0 371.6 373.5C374.1 373.9 373.0 373.6 375.0 373.8C377.0 374.0 381.7 374.6 383.4 374.8C385.1 375.1 384.1 375.0 385.0 375.1C385.9 375.1 387.8 375.3 389.0 375.2C390.2 375.1 391.2 374.6 392.0 374.5C392.8 374.3 393.3 374.2 394.0 374.0C394.7 373.9 395.5 373.6 396.2 373.6C396.9 373.5 397.2 373.6 398.0 373.9C398.8 374.2 399.6 374.7 401.1 375.4C402.6 376.1 404.0 377.1 407.0 377.9C410.0 378.8 416.7 380.2 418.9 380.7C421.1 381.2 415.9 380.1 420.0 380.9C424.1 381.7 439.4 384.5 443.3 385.2" fill="none" stroke="#5a5a5a" stroke-width="0.75" stroke-dasharray="2 1.6"/>
<path d="M344.1 372.6C346.7 373.1 357.1 375.0 359.7 375.5C362.3 376.0 358.0 375.1 360.0 375.6C362.0 376.0 369.1 377.8 371.6 378.4C374.1 378.9 373.0 378.5 375.0 378.9C377.0 379.2 381.7 380.0 383.4 380.3C385.1 380.6 384.1 380.5 385.0 380.6C385.9 380.7 387.8 380.9 389.0 380.8C390.2 380.7 391.2 380.1 392.0 379.9C392.8 379.6 393.3 379.5 394.0 379.4C394.7 379.2 395.5 378.8 396.2 378.7C396.9 378.6 397.2 378.6 398.0 378.8C398.8 379.0 399.6 379.5 401.1 380.1C402.6 380.7 404.0 381.5 407.0 382.3C410.0 383.1 416.7 384.4 418.9 384.9C421.1 385.4 415.9 384.4 420.0 385.1C424.1 385.9 439.4 388.7 443.3 389.4" fill="none" stroke="#5a5a5a" stroke-width="0.75" stroke-dasharray="2 1.6"/>
<path d="M344.1 377.3C346.7 377.8 357.1 379.7 359.7 380.2C362.3 380.6 358.0 379.7 360.0 380.2C362.0 380.7 369.1 382.6 371.6 383.2C374.1 383.9 373.0 383.5 375.0 383.9C377.0 384.3 381.7 385.4 383.4 385.7C385.1 386.1 384.1 386.0 385.0 386.1C385.9 386.2 387.8 386.5 389.0 386.4C390.2 386.3 391.2 385.6 392.0 385.3C392.8 385.0 393.3 384.9 394.0 384.7C394.7 384.4 395.5 384.1 396.2 383.9C396.9 383.7 397.2 383.6 398.0 383.7C398.8 383.8 399.6 384.3 401.1 384.8C402.6 385.2 404.0 385.8 407.0 386.6C410.0 387.3 416.7 388.7 418.9 389.1C421.1 389.6 415.9 388.6 420.0 389.3C424.1 390.1 439.4 392.8 443.3 393.5" fill="none" stroke="#5a5a5a" stroke-width="0.75" stroke-dasharray="2 1.6"/>
<path d="M344.1 382.1C346.7 382.5 357.1 384.4 359.7 384.8C362.3 385.3 358.0 384.3 360.0 384.9C362.0 385.4 369.1 387.5 371.6 388.1C374.1 388.8 373.0 388.4 375.0 388.9C377.0 389.4 381.7 390.7 383.4 391.2C385.1 391.6 384.1 391.4 385.0 391.6C385.9 391.7 387.8 392.1 389.0 392.0C390.2 391.9 391.2 391.1 392.0 390.8C392.8 390.4 393.3 390.3 394.0 390.0C394.7 389.7 395.5 389.3 396.2 389.1C396.9 388.8 397.2 388.5 398.0 388.6C398.8 388.7 399.6 389.0 401.1 389.4C402.6 389.8 404.0 390.2 407.0 390.9C410.0 391.5 416.7 392.9 418.9 393.3C421.1 393.8 415.9 392.8 420.0 393.6C424.1 394.3 439.4 397.0 443.3 397.7" fill="none" stroke="#5a5a5a" stroke-width="0.75" stroke-dasharray="2 1.6"/>
<path d="M344.1 386.8C346.7 387.3 357.1 389.0 359.7 389.5C362.3 389.9 358.0 388.9 360.0 389.5C362.0 390.1 369.1 392.3 371.6 393.0C374.1 393.8 373.0 393.4 375.0 394.0C377.0 394.6 381.7 396.1 383.4 396.6C385.1 397.1 384.1 396.9 385.0 397.1C385.9 397.3 387.8 397.8 389.0 397.6C390.2 397.5 391.2 396.6 392.0 396.2C392.8 395.8 393.3 395.6 394.0 395.3C394.7 395.0 395.5 394.5 396.2 394.2C396.9 393.9 397.2 393.5 398.0 393.5C398.8 393.5 399.6 393.8 401.1 394.1C402.6 394.4 404.0 394.6 407.0 395.2C410.0 395.8 416.7 397.1 418.9 397.6C421.1 398.0 415.9 397.1 420.0 397.8C424.1 398.5 439.4 401.2 443.3 401.8" fill="none" stroke="#5a5a5a" stroke-width="0.75" stroke-dasharray="2 1.6"/>
<path d="M344.1 391.6C346.7 392.0 357.1 393.7 359.7 394.2C362.3 394.6 358.0 393.6 360.0 394.2C362.0 394.8 369.1 397.1 371.6 397.9C374.1 398.7 373.0 398.3 375.0 399.0C377.0 399.7 381.7 401.4 383.4 402.0C385.1 402.6 384.1 402.4 385.0 402.6C385.9 402.8 387.8 403.4 389.0 403.2C390.2 403.0 391.2 402.1 392.0 401.6C392.8 401.2 393.3 401.0 394.0 400.6C394.7 400.2 395.5 399.8 396.2 399.4C396.9 399.0 397.2 398.5 398.0 398.4C398.8 398.3 399.6 398.6 401.1 398.8C402.6 399.0 404.0 399.0 407.0 399.5C410.0 400.0 416.7 401.4 418.9 401.8C421.1 402.2 415.9 401.3 420.0 402.0C424.1 402.7 439.4 405.3 443.3 406.0" fill="none" stroke="#5a5a5a" stroke-width="0.75" stroke-dasharray="2 1.6"/>
<text x="11.1" y="672.8" font-size="20" text-anchor="start" fill="#222" font-weight="bold">c</text>
<text x="124.8" y="699.2" font-size="22" text-anchor="start" fill="#333" font-weight="normal" textLength="147.4" lengthAdjust="spacingAndGlyphs">LD~280nm –ve</text>
<text x="163.4" y="725" font-size="22" text-anchor="start" fill="#333" font-weight="normal" textLength="76.6" lengthAdjust="spacingAndGlyphs">(Fibres)</text>
<text x="126.8" y="835" font-size="22" text-anchor="start" fill="#333" font-weight="normal" textLength="148" lengthAdjust="spacingAndGlyphs">LD~280nm +ve</text>
<text x="156" y="861" font-size="22" text-anchor="start" fill="#333" font-weight="normal" textLength="94.6" lengthAdjust="spacingAndGlyphs">(Crystals)</text>
<text x="350.2" y="754.4" font-size="22" text-anchor="start" fill="#333" font-weight="normal" textLength="79" lengthAdjust="spacingAndGlyphs">~280nm</text>
<text x="369.6" y="855.2" font-size="22" text-anchor="start" fill="#333" font-weight="normal" textLength="78.6" lengthAdjust="spacingAndGlyphs">~280nm</text>
<g fill="none" stroke="#3c3c3c" stroke-width="1.15"><path d="M313.5 690L324.8 672.3H349L361 690L349 708.4H324.8Z"/><path d="M327.6 675.6H346.6M356.6 691.4L347.4 705.4M318.2 691.4L327.4 705.4"/><path d="M288.7 690H313.5M361 690H378.4"/><path d="M337.1 655V729" stroke="#3a3a3a" stroke-width="0.9"/></g>
<path d="M337.1 642.8L341.7 658.8H332.5Z M337.1 740.8L341.7 724.6H332.5Z" fill="#111"/>
<text x="380.4" y="695.3" font-size="12.6" text-anchor="start" fill="#333" font-weight="normal" textLength="22" lengthAdjust="spacingAndGlyphs">OH</text>
<g fill="none" stroke="#3c3c3c" stroke-width="1.15"><path d="M336 804.3L357.4 815.1V834.5L336.4 845.3L315.4 834.6V815.1Z"/><path d="M338 809.2L353 817M319.4 818V832.2M338 840.8L353 833"/><path d="M336 804.3V790.6M336.4 845.3V865.2"/><path d="M292 825.9H382" stroke="#3a3a3a" stroke-width="0.9"/></g>
<path d="M278.4 825.9L297.6 822.5V829.3Z M396.8 825.9L376.4 822.5V829.3Z" fill="#111"/>
<text x="330.8" y="789.6" font-size="12.6" text-anchor="start" fill="#333" font-weight="normal" textLength="23.8" lengthAdjust="spacingAndGlyphs">OH</text>
<path d="M144 910.3L208.5 878.4V893.8H468.8V878.4L533.4 910.3L468.8 942.2V926.2H208.5V942.2Z" fill="#fff" stroke="#383838" stroke-width="1.45" stroke-linejoin="miter"/>
<text x="232.4" y="919.4" font-size="22" text-anchor="start" fill="#333" font-weight="normal" textLength="212.4" lengthAdjust="spacingAndGlyphs">Fibre/Crystal long axis</text>
</svg>
</body></html>
